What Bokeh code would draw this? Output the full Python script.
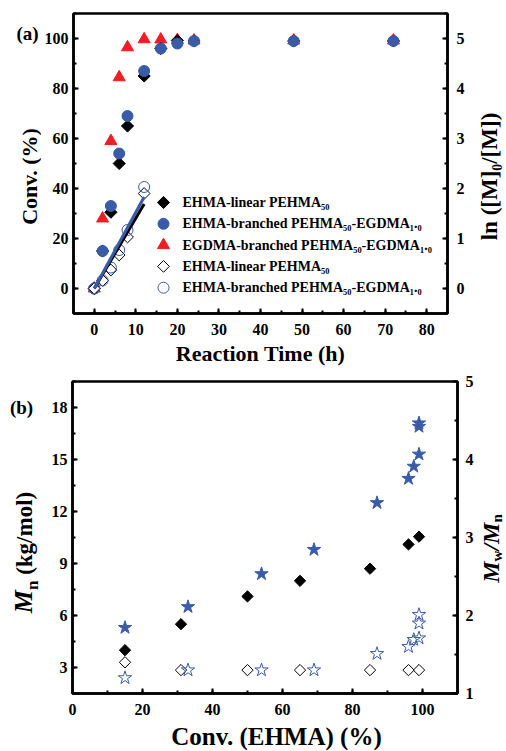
import numpy as np
from bokeh.plotting import figure
from bokeh.models import Range1d, LinearAxis, SingleIntervalTicker
from bokeh.core.properties import value
from bokeh.layouts import column, row
from bokeh.embed import file_html
from bokeh.resources import INLINE

FONT = "Liberation Serif"
BLUE = "#3a5ba8"
RED = "#ee1f24"

# ---------------- panel (a) data ----------------
time_h = [0, 2, 4, 6, 8, 12, 16, 20, 24, 48, 72]
conv_linear = [0, 15, 30.5, 50, 65, 85, 96, 99.2, 99, 99, 99]
conv_branched = [0, 15, 33, 54, 69, 87, 96, 98, 99, 99, 99]
conv_egdma = [0, 28, 59, 84.5, 96.5, 99.7, 99.6, 99.4, 99.2, 99.2, 99.2]
kin_time = [0, 2, 4, 6, 8, 12]
ln_linear = [0, 0.16, 0.37, 0.67, 1.03, 1.90]
ln_branched = [0, 0.16, 0.42, 0.77, 1.17, 2.03]
fit_time = [0, 12]
fit_linear = [0, 1.69]
fit_branched = [0, 1.83]
legend_labels = ["EHMA-linear PEHMA₅₀",
                 "EHMA-branched PEHMA₅₀-EGDMA₁.₀",
                 "EGDMA-branched PEHMA₅₀-EGDMA₁.₀",
                 "EHMA-linear PEHMA₅₀",
                 "EHMA-branched PEHMA₅₀-EGDMA₁.₀"]

# ---------------- panel (b) data ----------------
conv_lin_b = [15, 31, 50, 65, 85, 96, 99]
mn_linear = [4.0, 5.5, 7.1, 8.0, 8.7, 10.1, 10.55]
pdi_linear = [1.40, 1.30, 1.30, 1.30, 1.30, 1.30, 1.30]
conv_br_b = [15, 33, 54, 69, 87, 96, 97.5, 99, 99, 99]
mn_branched = [5.3, 6.5, 8.4, 9.8, 12.5, 13.9, 14.6, 15.3, 16.9, 17.1]
pdi_branched = [1.20, 1.30, 1.30, 1.30, 1.51, 1.60, 1.69, 1.71, 1.90, 2.01]

# Times-bold-like advance widths (per em) for composing sub-scripted labels
ADV = {"M": 0.889, "n": 0.556, "w": 0.722, "/": 0.278, " ": 0.25, "(": 0.333,
       ")": 0.333, "k": 0.556, "g": 0.5, "m": 0.833, "o": 0.5, "l": 0.278}
MID = 0.3375   # distance (em) from baseline to the middle of the text box

PAGE_W = 506


def style_axis(ax, interval, standoff, label_size="16px"):
    ax.ticker = SingleIntervalTicker(interval=interval, num_minor_ticks=2)
    ax.major_tick_in = 5
    ax.major_tick_out = 0
    ax.minor_tick_in = 3
    ax.minor_tick_out = 0
    ax.axis_line_width = 2.5
    ax.major_tick_line_width = 2
    ax.minor_tick_line_width = 2
    ax.major_label_text_font = FONT
    ax.major_label_text_font_style = "bold"
    ax.major_label_text_font_size = label_size
    ax.major_label_text_color = "black"
    ax.major_label_standoff = standoff
    ax.axis_label_text_font = FONT
    ax.axis_label_text_font_style = "bold"
    ax.axis_label_text_color = "black"


def base_fig(fw, fh, xr, yr, borders):
    p = figure(frame_width=fw, frame_height=fh, x_range=xr, y_range=yr,
               output_backend="svg", toolbar_location=None,
               min_border_top=borders[0], min_border_right=borders[1],
               min_border_bottom=borders[2], min_border_left=borders[3])
    p.xgrid.visible = False
    p.ygrid.visible = False
    p.outline_line_color = "black"
    p.outline_line_width = 2.5
    p.background_fill_color = "white"
    p.border_fill_color = "white"
    return p


def text_fig(w, h):
    f = figure(frame_width=w, frame_height=h, x_range=Range1d(0, w),
               y_range=Range1d(0, h), x_axis_type=None, y_axis_type=None,
               output_backend="svg", toolbar_location=None, min_border=0,
               min_border_left=0, min_border_right=0, min_border_top=0,
               min_border_bottom=0)
    f.outline_line_color = None
    f.xgrid.visible = False
    f.ygrid.visible = False
    f.background_fill_color = "white"
    f.border_fill_color = "white"
    return f


def put_text(f, x, y, t, size, style="bold", angle=0.0, align="center"):
    f.text(x=[x], y=[y], text=[t], angle=angle, text_font=value(FONT),
           text_font_style=style, text_font_size=f"{size}px",
           text_align=align, text_baseline="middle", text_color="black")


def vertical_compound(f, pieces, x_mid, yc):
    """Rotated (reading upwards) label from pieces (text, size, style, sub_shift).
    x_mid is the middle of the main text box; sub_shift lowers a subscript;
    a leading space in a piece becomes a gap before it."""
    main = max(s for t, s, st, sh in pieces)
    x_base = x_mid + MID * main
    widths = [sum(ADV.get(c, 0.5) for c in t) * s for t, s, st, sh in pieces]
    y = yc - sum(widths) / 2
    for (t, s, st, sh), w in zip(pieces, widths):
        gap = (len(t) - len(t.lstrip(" "))) * ADV[" "] * s
        put_text(f, x_base + sh - MID * s, y + gap, t.strip(" "), s, style=st,
                 angle=np.pi / 2, align="left")
        y += w


# ================= panel (a) =================
FW_A, FH_A = 374, 300
TOP_A, RIGHT_A, BOT_A, LEFT_A = 13, 20, 55, 31
X_A, Y_A = (-5, 85), (-10, 110)
pa = base_fig(FW_A, FH_A, Range1d(*X_A), Range1d(*Y_A),
              (TOP_A, RIGHT_A, BOT_A, LEFT_A))
pa.extra_y_ranges = {"ln": Range1d(-0.5, 5.5)}
style_axis(pa.xaxis[0], 10, 10)
style_axis(pa.yaxis[0], 20, 5)
pa.xaxis[0].axis_label = "Reaction Time (h)"
pa.xaxis[0].axis_label_text_font_size = "22px"
pa.xaxis[0].axis_label_standoff = 3
ra = LinearAxis(y_range_name="ln")
style_axis(ra, 1, 9)
pa.add_layout(ra, "right")

pa.scatter(time_h, conv_egdma, marker="triangle", size=12, color=RED)
pa.scatter(time_h, conv_linear, marker="square", angle=np.pi / 4, size=8.6,
           color="black")
pa.scatter(time_h, conv_branched, marker="circle", size=11, color=BLUE)
pa.scatter(kin_time, ln_linear, y_range_name="ln", marker="square",
           angle=np.pi / 4, size=8.3, fill_color="white", line_color="black",
           line_width=1)
pa.scatter(kin_time, ln_branched, y_range_name="ln", marker="circle", size=11,
           fill_color=None, line_color=BLUE, line_width=1)
pa.line(fit_time, fit_linear, y_range_name="ln", line_color="black", line_width=3)
pa.line(fit_time, fit_branched, y_range_name="ln", line_color=BLUE, line_width=3)

# legend drawn inside the frame (pixel offsets from the frame's top-left)
sx = (X_A[1] - X_A[0]) / FW_A
sy = (Y_A[1] - Y_A[0]) / FH_A
LEG_MARK_PX, LEG_TEXT_PX, LEG_TOP_PX, LEG_PITCH = 90, 109, 189, 21.3
leg_styles = [dict(marker="square", angle=np.pi / 4, size=8.6, color="black"),
              dict(marker="circle", size=11, color=BLUE),
              dict(marker="triangle", size=12, color=RED),
              dict(marker="square", angle=np.pi / 4, size=8.3, fill_color="white",
                   line_color="black", line_width=1),
              dict(marker="circle", size=11, fill_color=None, line_color=BLUE,
                   line_width=1)]
for i, (lab, st) in enumerate(zip(legend_labels, leg_styles)):
    ly = Y_A[1] - (LEG_TOP_PX + i * LEG_PITCH) * sy
    pa.scatter([X_A[0] + LEG_MARK_PX * sx], [ly], **st)
    pa.text(x=[X_A[0] + LEG_TEXT_PX * sx], y=[ly], text=[lab],
            text_font=value(FONT), text_font_style="bold", text_font_size="14px",
            text_align="left", text_baseline="middle", text_color="black")

H_A = TOP_A + FH_A + BOT_A
W_AL = 72 - LEFT_A
A_left = text_fig(W_AL, H_A)
put_text(A_left, 27, H_A - 20, "(a)", 19)
put_text(A_left, 28.5, H_A - TOP_A - FH_A / 2, "Conv. (%)", 22, angle=np.pi / 2)
W_AR = PAGE_W - W_AL - LEFT_A - FW_A - RIGHT_A
A_right = text_fig(W_AR, H_A)
put_text(A_right, 21.5, H_A - TOP_A - FH_A / 2, "ln ([M]₀/[M])", 23,
         angle=np.pi / 2)

# ================= panel (b) =================
FW_B, FH_B = 385, 312
TOP_B, RIGHT_B, BOT_B, LEFT_B = 13, 16, 29, 23
pb = base_fig(FW_B, FH_B, Range1d(0, 110), Range1d(1.5, 19.5),
              (TOP_B, RIGHT_B, BOT_B, LEFT_B))
pb.extra_y_ranges = {"pdi": Range1d(1, 5)}
style_axis(pb.xaxis[0], 20, 10)
style_axis(pb.yaxis[0], 3, 5)
rb = LinearAxis(y_range_name="pdi")
style_axis(rb, 1, 8)
pb.add_layout(rb, "right")

pb.scatter(conv_lin_b, mn_linear, marker="square", angle=np.pi / 4, size=8,
           color="black")
pb.scatter(conv_br_b, mn_branched, marker="star", size=14, color=BLUE)
pb.scatter(conv_lin_b, pdi_linear, y_range_name="pdi", marker="square",
           angle=np.pi / 4, size=8, fill_color=None, line_color="black",
           line_width=1)
pb.scatter(conv_br_b, pdi_branched, y_range_name="pdi", marker="star", size=14,
           fill_color=None, line_color=BLUE, line_width=1)

H_B = TOP_B + FH_B + BOT_B
W_BL = 71 - LEFT_B
B_left = text_fig(W_BL, H_B)
put_text(B_left, 21, H_B - 26, "(b)", 19)
vertical_compound(B_left, [("M", 26, "bold italic", 0), ("n", 17, "bold", 6),
                           (" (kg/mol)", 23, "bold", 0)], 23,
                  H_B - TOP_B - FH_B / 2 - 2)
W_BR = PAGE_W - W_BL - LEFT_B - FW_B - RIGHT_B
B_right = text_fig(W_BR, H_B)
vertical_compound(B_right, [("M", 24, "bold italic", 0), ("w", 15, "bold", 3),
                            ("/", 24, "bold italic", 0), ("M", 24, "bold italic", 0),
                            ("n", 15, "bold", 3)], 14.5,
                  H_B - TOP_B - FH_B / 2 + 2)

strip = text_fig(PAGE_W, 28)
put_text(strip, 276, 14, "Conv. (EHMA) (%)", 25)

layout = column(row(A_left, pa, A_right, spacing=0),
                row(B_left, pb, B_right, spacing=0), strip, spacing=0)
open("out.html", "w").write(file_html(layout, INLINE))
